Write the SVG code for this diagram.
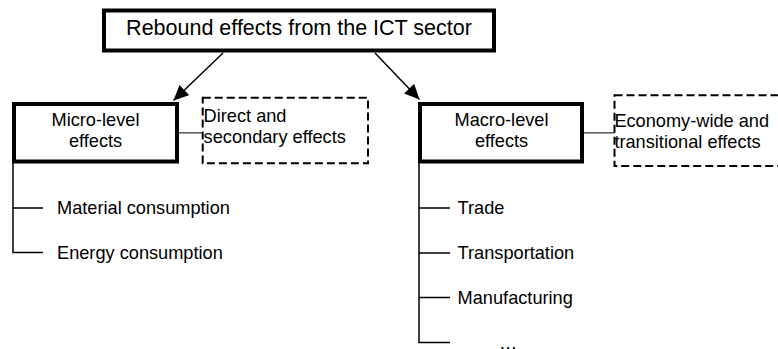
<svg xmlns="http://www.w3.org/2000/svg" width="778" height="349" viewBox="0 0 778 349">
  <style>
    text { font-family: "Liberation Sans", Arial, sans-serif; font-size: 18.2px; fill: #000; }
    .title { font-size: 21.5px; }
    .mid { text-anchor: middle; }
    .box { fill: #fff; stroke: #000; stroke-width: 4; }
    .dash { fill: none; stroke: #000; stroke-width: 2; stroke-dasharray: 8 4; }
    .link { stroke: #555; stroke-width: 1.5; fill: none; }
    .tree { stroke: #000; stroke-width: 1.5; fill: none; }
    .arrow { stroke: #000; stroke-width: 1.5; fill: none; marker-end: url(#head); }
  </style>
  <defs>
    <marker id="head" markerUnits="userSpaceOnUse" markerWidth="16" markerHeight="14" refX="15" refY="7" orient="auto">
      <path d="M0,0 L15,7 L0,14 z" fill="#000"/>
    </marker>
  </defs>

  <rect width="778" height="349" fill="#fff"/>

  <!-- connectors -->
  <g id="connectors">
    <line class="arrow" x1="223" y1="53" x2="173.5" y2="100.5"/>
    <line class="arrow" x1="375" y1="53" x2="419.5" y2="99.5"/>
    <line class="link" x1="179" y1="132.8" x2="202.7" y2="132.8"/>
    <line class="link" x1="584" y1="132.8" x2="614.5" y2="132.8"/>
    <!-- micro-level branches -->
    <path class="tree" d="M13,163 V252.5 H43 M13,208 H43"/>
    <!-- macro-level branches -->
    <path class="tree" d="M419,163 V342.5 H450 M419,208 H450 M419,253 H450 M419,297.5 H450"/>
  </g>

  <g id="root">
    <rect class="box" x="104" y="10.5" width="390" height="40"/>
    <text class="title mid" x="299" y="35">Rebound effects from the ICT sector</text>
  </g>

  <g id="micro">
    <rect class="box" x="14" y="104" width="163" height="57.5"/>
    <text class="mid" x="95.5" y="125.5">Micro-level</text>
    <text class="mid" x="95.5" y="146.5">effects</text>
  </g>

  <g id="micro-note">
    <rect class="dash" x="202.7" y="97.7" width="165.3" height="65.6"/>
    <text x="203.6" y="122.3">Direct and</text>
    <text x="203.6" y="143.3">secondary effects</text>
  </g>

  <g id="macro">
    <rect class="box" x="420" y="104" width="162" height="57.5"/>
    <text class="mid" x="501.5" y="125.5">Macro-level</text>
    <text class="mid" x="501.5" y="146.5">effects</text>
  </g>

  <g id="macro-note">
    <rect class="dash" x="614.5" y="95.3" width="170" height="70.7"/>
    <text x="614.4" y="126.7">Economy-wide and</text>
    <text x="614.4" y="148.3">transitional effects</text>
  </g>

  <g id="micro-items">
    <text x="57" y="214">Material consumption</text>
    <text x="57" y="259">Energy consumption</text>
  </g>

  <g id="macro-items">
    <text x="457.6" y="214">Trade</text>
    <text x="457.6" y="259">Transportation</text>
    <text x="457.6" y="303.5">Manufacturing</text>
    <text x="499" y="349">…</text>
  </g>
</svg>
